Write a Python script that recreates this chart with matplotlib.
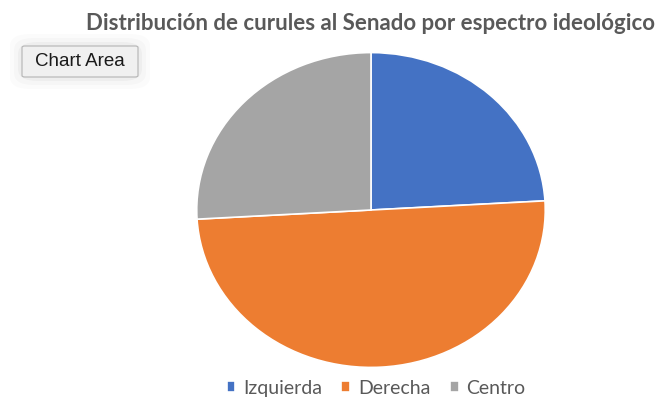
import numpy as np
import matplotlib
matplotlib.use("Agg")
import matplotlib.pyplot as plt
from matplotlib.patches import FancyBboxPatch

# Datos del gráfico
categorias = ["Izquierda", "Derecha", "Centro"]
curules = [26, 54, 28]
colores = ["#4472C4", "#ED7D31", "#A5A5A5"]
titulo = "Distribución de curules al Senado por espectro ideológico"

plt.rcParams['font.family'] = ['Lato', 'DejaVu Sans']

fig = plt.figure(figsize=(6.59, 4.02), dpi=100)
fig.patch.set_facecolor("white")

# Pastel (ligeramente elíptico como en la imagen)
ax = fig.add_axes([195/659, 32/402, 352/659, 318/402])
wedges, _ = ax.pie(curules, colors=colores, startangle=90, counterclock=False,
                   wedgeprops=dict(edgecolor="white", linewidth=1.2))
ax.set_aspect("auto")
ax.set_xlim(-1.01, 1.01)
ax.set_ylim(-1.01, 1.01)

# Título
fig.text(370/659, 1 - 23/402, titulo, ha="center", va="center",
         fontsize=16, fontweight="bold", color="#595959")

# Leyenda
fig.legend(wedges, categorias, loc="center", bbox_to_anchor=(376/659, 1 - 389/402),
           ncol=3, frameon=False, fontsize=14, labelcolor="#595959",
           handlelength=0.45, handleheight=0.45, handletextpad=0.4, columnspacing=1.0,
           borderpad=0.1)

# Recuadro "Chart Area" (tooltip)
for i, a in enumerate([0.015, 0.02, 0.03]):
    pad = 12 - i * 4
    sh = FancyBboxPatch((22/659 - pad/659, 1 - 78/402 - pad/402),
                        116/659 + 2*pad/659, 31/402 + 2*pad/402,
                        boxstyle="round,pad=0,rounding_size=0.03",
                        transform=fig.transFigure, facecolor="black",
                        edgecolor="none", alpha=a)
    fig.add_artist(sh)
caja = FancyBboxPatch((22/659, 1 - 78/402), 116/659, 31/402,
                      boxstyle="round,pad=0,rounding_size=0.004",
                      transform=fig.transFigure, facecolor="#F0F0F0",
                      edgecolor="#B4B4B4", linewidth=0.8)
fig.add_artist(caja)
fig.text(80/659, 1 - 62/402, "Chart Area", ha="center", va="center",
         fontsize=13.5, color="#1A1A1A", family=['Liberation Sans', 'DejaVu Sans'])

fig.savefig("out.png", dpi=100)
